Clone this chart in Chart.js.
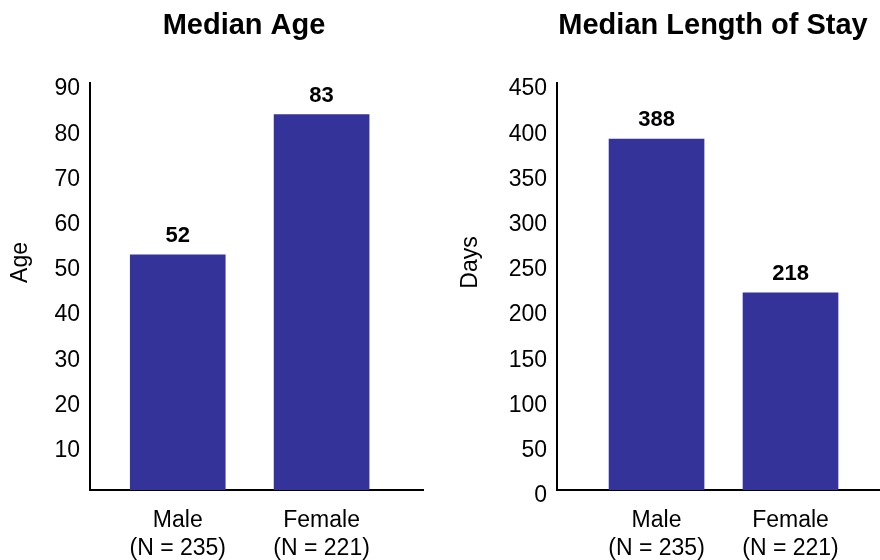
<!DOCTYPE html>
<html>
<head>
<meta charset="utf-8">
<script src="https://cdn.jsdelivr.net/npm/chart.js@4.4.1/dist/chart.umd.min.js"></script>
<style>
  body { margin: 0; background: #fff; overflow: hidden; }
  #wrap { position: relative; width: 880px; height: 560px; }
  canvas { position: absolute; top: 0; }
</style>
</head>
<body>
<div id="wrap">
  <canvas id="age" width="440" height="560" style="left:0"></canvas>
  <canvas id="stay" width="440" height="560" style="left:440px"></canvas>
</div>
<script>
const categories = ['Male', 'Female']
const groupSizes = [235, 221]
const medianAge = [52, 83]
const medianStay = [388, 218]
const ageTicks = [10, 20, 30, 40, 50, 60, 70, 80, 90]
const stayTicks = [0, 50, 100, 150, 200, 250, 300, 350, 400, 450]

const xLabels = categories.map(function (c, i) {
  return [c, '(N = ' + groupSizes[i] + ')']
})

const FONT = '"Liberation Sans", Arial, sans-serif'
Chart.defaults.font.family = FONT
Chart.defaults.color = '#000'

// chart title, rotated y axis title and the value above each bar
const chartText = {
  id: 'chartText',
  afterDatasetsDraw(chart, args, opts) {
    const ctx = chart.ctx
    const values = chart.data.datasets[0].data
    const area = chart.chartArea
    ctx.save()
    ctx.fillStyle = '#000'
    ctx.textAlign = 'center'
    ctx.textBaseline = 'middle'
    ctx.font = 'bold 29px ' + FONT
    ctx.fillText(opts.title, opts.titleX, 26)

    ctx.font = 'bold 22px ' + FONT
    ctx.textBaseline = 'alphabetic'
    chart.getDatasetMeta(0).data.forEach(function (bar, i) {
      ctx.fillText(values[i].y, bar.x, bar.y - 13)
    })

    ctx.font = '23px ' + FONT
    ctx.textBaseline = 'middle'
    ctx.translate(opts.axisTitleX, (area.top + area.bottom) / 2 - 24)
    ctx.rotate(-Math.PI / 2)
    ctx.fillText(opts.axisTitle, 0, 0)
    ctx.restore()
  }
}

function makeChart(id, title, axisTitle, values, yTicks, s) {
  return new Chart(document.getElementById(id), {
    type: 'bar',
    data: {
      datasets: [{
        data: values.map(function (v, i) { return { x: i + 1, y: v } }),
        backgroundColor: '#333399',
        borderWidth: 0,
        barThickness: 95
      }]
    },
    options: {
      responsive: false,
      animation: false,
      layout: { padding: { left: 0, right: s.padRight, top: 83, bottom: 0 } },
      plugins: {
        legend: { display: false },
        tooltip: { enabled: false },
        title: { display: false },
        chartText: {
          title: title,
          titleX: s.titleX,
          axisTitle: axisTitle,
          axisTitleX: s.axisTitleX
        }
      },
      scales: {
        x: {
          type: 'linear',
          min: s.xMin,
          max: s.xMax,
          offset: false,
          bounds: 'data',
          grid: { display: false, drawTicks: false },
          border: { display: true, color: '#000', width: 2 },
          afterBuildTicks: function (axis) {
            axis.ticks = categories.map(function (c, i) { return { value: i + 1 } })
          },
          afterFit: function (axis) { axis.height = 70 },
          ticks: {
            font: { size: 23, lineHeight: 1.25 },
            padding: 16,
            maxRotation: 0,
            autoSkip: false,
            callback: function (v) { return xLabels[v - 1] }
          }
        },
        y: {
          min: 0,
          max: yTicks[yTicks.length - 1],
          grid: { display: false, drawTicks: false },
          border: { display: true, color: '#000', width: 2 },
          afterBuildTicks: function (axis) {
            axis.ticks = yTicks.map(function (t) { return { value: t } })
          },
          afterFit: function (axis) { axis.width = s.yWidth },
          ticks: { font: { size: 23 }, padding: 10, labelOffset: 6 }
        }
      }
    },
    plugins: [chartText]
  })
}

makeChart('age', 'Median Age', 'Age', medianAge, ageTicks,
  { padRight: 17, yWidth: 90, titleX: 244, axisTitleX: 21, xMin: 0.39, xMax: 2.705 })
makeChart('stay', 'Median Length of Stay', 'Days', medianStay, stayTicks,
  { padRight: 0, yWidth: 117, titleX: 273, axisTitleX: 31, xMin: 0.257, xMax: 2.668 })
</script>
</body>
</html>
